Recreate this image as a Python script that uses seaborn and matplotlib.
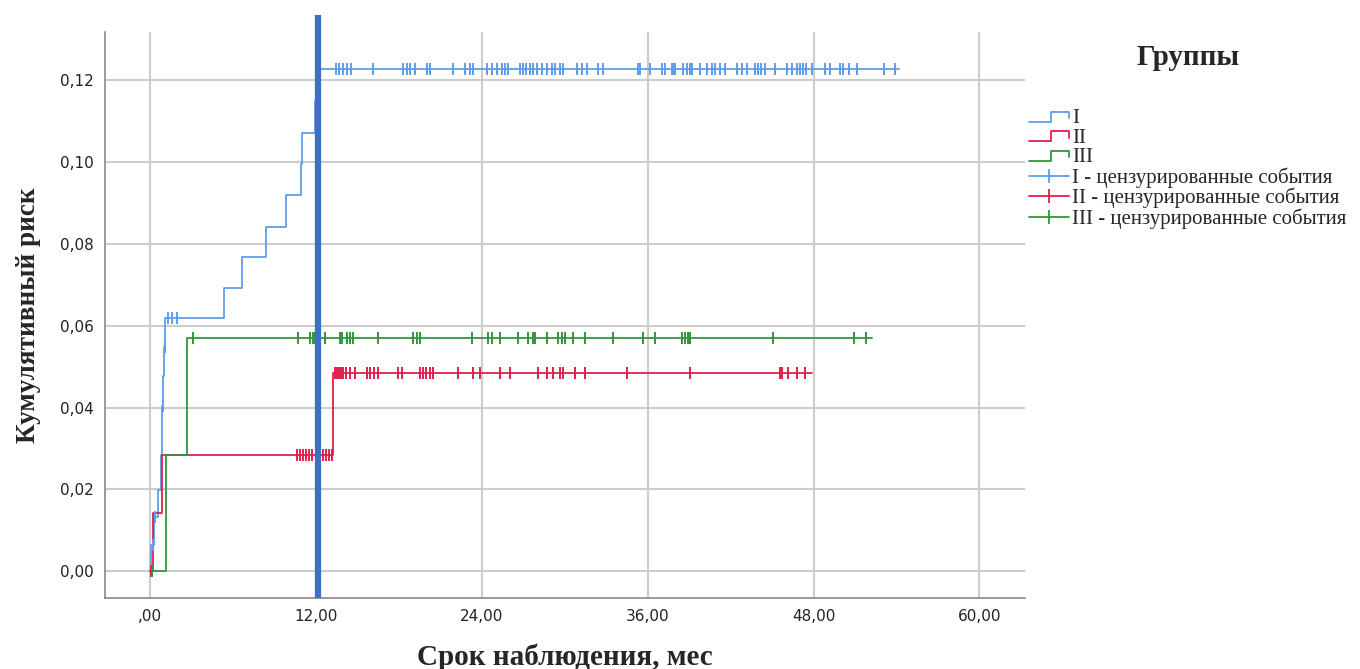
import numpy as np
import pandas as pd
import matplotlib
matplotlib.use("Agg")
import matplotlib.pyplot as plt
from matplotlib.lines import Line2D
from matplotlib.legend_handler import HandlerBase
from matplotlib.ticker import FuncFormatter
import seaborn as sns

# --------------------------------------
# Data (months / cumulative risk)
# --------------------------------------
groups = ["I", "II", "III"]
colors = {"I": "#5f9ded", "II": "#e0204c", "III": "#32963a"}

# step changes: time of jump and level after the jump; last entry = end of follow-up
step_times_I = [0.0, 0.10, 0.30, 0.55, 0.80, 0.90, 0.95, 1.00, 1.10,
                5.37, 6.63, 8.39, 9.81, 10.90, 10.97, 11.95, 12.20, 54.2]
step_risk_I = [0.0, 0.0065, 0.0133, 0.0198, 0.0284, 0.0403, 0.0477, 0.0548, 0.0619,
               0.0693, 0.0768, 0.0842, 0.0919, 0.0996, 0.1072, 0.1149, 0.1227, 0.1227]

step_times_II = [0.0, 0.24, 0.89, 13.27, 47.86]
step_risk_II = [0.0, 0.0143, 0.0284, 0.0484, 0.0484]

step_times_III = [0.0, 1.13, 2.70, 52.2]
step_risk_III = [0.0, 0.0284, 0.0571, 0.0571]

censored_I = [0.2, 0.4, 0.92, 1.08, 1.3, 1.57, 1.93, 12.0,
              13.45, 13.66, 13.95, 14.24, 14.53, 16.12, 18.29, 18.58, 18.80, 19.16,
              20.02, 20.24, 21.90, 22.77, 23.13, 23.35, 24.36, 24.72, 25.08, 25.45,
              25.66, 25.88, 26.75, 26.96, 27.18, 27.47, 27.69, 27.98, 28.34, 28.70,
              29.06, 29.28, 29.64, 29.86, 30.87, 31.23, 31.59, 32.39, 32.75, 35.28,
              35.42, 36.14, 37.01, 37.23, 37.74, 37.81, 37.95, 38.53, 38.82, 39.04,
              39.18, 39.76, 40.27, 40.63, 40.84, 41.20, 41.57, 42.43, 42.80, 43.16,
              43.74, 43.96, 44.17, 44.46, 45.18, 46.05, 46.41, 46.77, 46.99, 47.21,
              47.49, 47.86, 48.80, 49.16, 49.88, 50.10, 50.60, 51.18, 53.13, 53.86]

censored_II = [0.1, 10.63, 10.84, 11.06, 11.28, 11.49, 11.71, 12.29, 12.51, 12.72, 12.94,
               13.16, 13.37, 13.52, 13.66, 13.81, 13.95, 14.17, 14.46, 14.82, 15.69,
               15.90, 16.19, 16.48, 17.93, 18.22, 19.52, 19.74, 19.95, 20.24, 20.46,
               22.27, 23.35, 23.86, 25.30, 26.02, 28.05, 28.70, 29.13, 29.64, 29.86,
               30.72, 31.45, 34.48, 39.04, 45.54, 45.69, 46.12, 46.84, 47.35]

censored_III = [0.12, 3.11, 10.70, 11.57, 11.78, 11.93, 12.65, 13.74, 13.88, 14.24, 14.46,
                14.68, 16.48, 19.01, 19.30, 19.52, 23.28, 24.43, 24.72, 25.30, 26.60,
                27.33, 27.69, 27.83, 28.70, 29.49, 29.78, 30.00, 30.58, 31.45, 33.47,
                35.64, 36.51, 38.46, 38.68, 38.89, 39.04, 45.04, 50.96, 51.83]

steps = {"I": (step_times_I, step_risk_I),
         "II": (step_times_II, step_risk_II),
         "III": (step_times_III, step_risk_III)}
censored = {"I": censored_I, "II": censored_II, "III": censored_III}

cut_month = 12.15
x_ticks = [0, 12, 24, 36, 48, 60]
y_ticks = [0.0, 0.02, 0.04, 0.06, 0.08, 0.10, 0.12]

# --------------------------------------
# Plot
# --------------------------------------
sns.set_theme(style="white")
serif = ["Liberation Serif", "DejaVu Serif"]
plt.rcParams["font.family"] = serif

fig = plt.figure(figsize=(13.6, 6.69), dpi=100)
ax = fig.add_axes([0.0772, 0.106, 0.6765, 0.846])


def level_at(times, risk, t):
    idx = np.searchsorted(times, t, side="right") - 1
    return np.asarray(risk)[idx]


for g in groups:
    t, r = steps[g]
    sns.lineplot(x=t, y=r, ax=ax, color=colors[g], lw=1.3, drawstyle="steps-post",
                 estimator=None, sort=False, zorder=3)
    ct = np.array(censored[g])
    cr = level_at(np.array(t), r, ct)
    sns.scatterplot(x=ct, y=cr, ax=ax, color=colors[g], marker="|", s=70,
                    linewidth=1.4, zorder=4)

ax.axvline(cut_month, ymin=0, ymax=1.03, color="#3e6fc8", lw=4.5, zorder=5,
           clip_on=False, solid_capstyle="butt")

ax.set_xlim(-3.25, 63.3)
ax.set_ylim(-0.0066, 0.1318)
ax.set_xticks(x_ticks)
ax.set_yticks(y_ticks)
ax.xaxis.set_major_formatter(FuncFormatter(
    lambda v, p: ",00" if v == 0 else f"{v:.2f}".replace(".", ",")))
ax.yaxis.set_major_formatter(FuncFormatter(lambda v, p: f"{v:.2f}".replace(".", ",")))
ax.tick_params(axis="both", length=0, labelsize=11, pad=8, colors="#222222")
for lab in ax.get_xticklabels() + ax.get_yticklabels():
    lab.set_family("DejaVu Sans")

ax.grid(True, color="#cccccc", lw=1.5, zorder=0)
ax.set_axisbelow(True)
for s in ["top", "right"]:
    ax.spines[s].set_visible(False)
for s in ["left", "bottom"]:
    ax.spines[s].set_color("#888888")
    ax.spines[s].set_linewidth(1.2)

ax.set_xlabel("Срок наблюдения, мес", fontsize=21, fontweight="bold", labelpad=14)
ax.set_ylabel("Кумулятивный риск", fontsize=19.5, fontweight="bold", labelpad=14)


# legend with step-shaped handles
class HandlerStep(HandlerBase):
    def create_artists(self, legend, orig_handle, xdescent, ydescent, width, height,
                       fontsize, trans):
        x0, h = -xdescent, height
        xs = [x0, x0 + 0.55 * width, x0 + 0.55 * width, x0 + width, x0 + width]
        ys = [0.1 * h, 0.1 * h, 0.8 * h, 0.8 * h, 0.35 * h]
        line = Line2D(xs, ys, color=orig_handle.get_color(), lw=1.3, transform=trans)
        return [line]


handles, labels = [], []
for g in groups:
    handles.append(Line2D([], [], color=colors[g]))
    labels.append(g)
cens_handles = []
for g in groups:
    cens_handles.append(Line2D([0, 1], [0, 0], color=colors[g], lw=1.3, marker="|",
                               markersize=10, markeredgewidth=1.3))
    labels.append(f"{g} - цензурированные события")

step_handler = HandlerStep()
leg = ax.legend(handles + cens_handles, labels, loc="upper left",
                bbox_to_anchor=(0.743, 0.962), bbox_transform=fig.transFigure,
                frameon=False, title="Группы", handlelength=1.9, handletextpad=0.15,
                labelspacing=0.0, prop={"family": serif, "size": 15},
                handler_map={h: step_handler for h in handles})
leg.get_title().set_fontsize(21)
leg.get_title().set_fontweight("bold")
leg._legend_box.sep = 27

fig.savefig("out.png", dpi=100)
